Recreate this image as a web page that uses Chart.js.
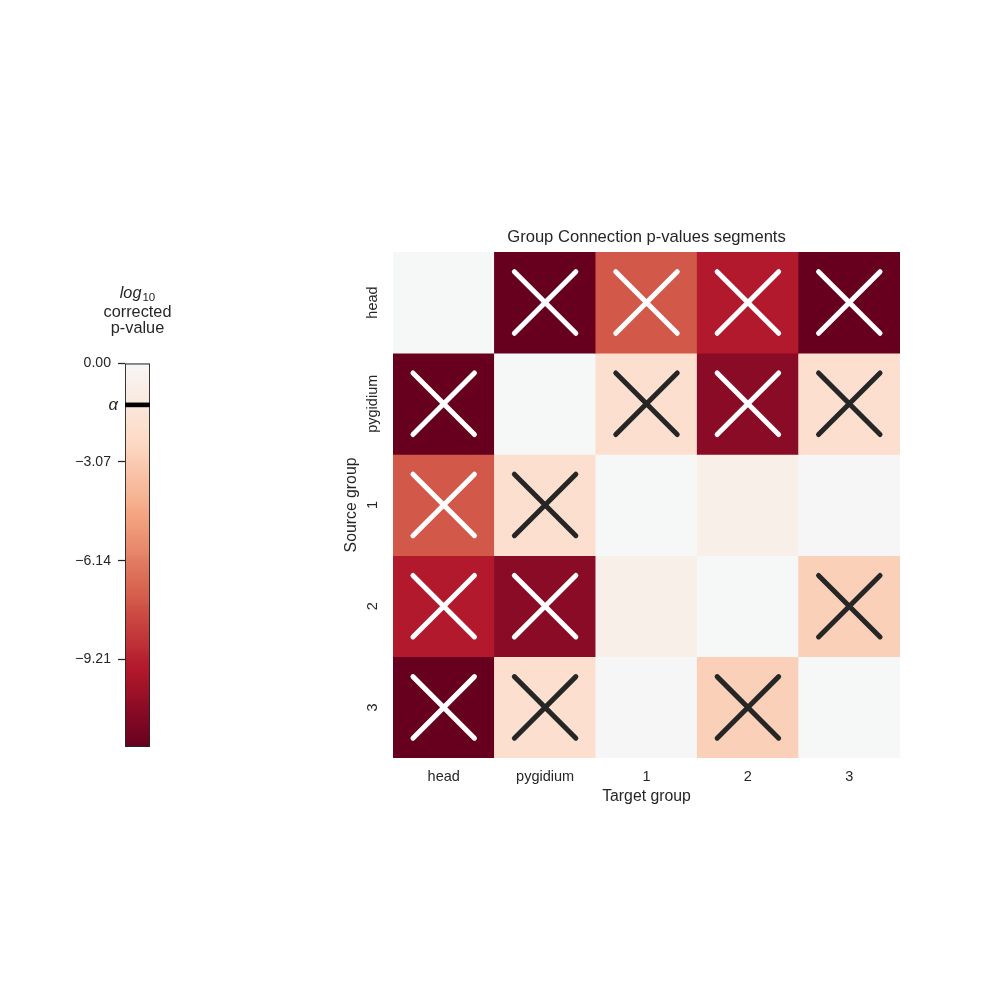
<!DOCTYPE html>
<html><head><meta charset="utf-8">
<script src="https://cdn.jsdelivr.net/npm/chart.js@4.4.1/dist/chart.umd.min.js"></script>
<style>
html,body{margin:0;padding:0;background:#fff;}
#wrap{position:relative;width:1000px;height:1000px;overflow:hidden;}
#main{position:absolute;left:0;top:0;width:1000px;height:1000px;}
#cbar{position:absolute;left:0;top:260px;width:220px;height:520px;}
</style></head><body>
<div id="wrap">
<canvas id="main" width="1000" height="1000"></canvas>
<canvas id="cbar" width="220" height="520"></canvas>
</div>
<script>
// ---- data ----
const chartTitle = 'Group Connection p-values segments';
const sourceGroups = ['head', 'pygidium', '1', '2', '3'];
const targetGroups = ['head', 'pygidium', '1', '2', '3'];
// log10 corrected p-values, one array per source group (columns = target groups)
const logP_head     = [0.00, -12.50, -7.40, -9.50, -12.50];
const logP_pygidium = [-12.50, 0.00, -1.96, -10.80, -1.96];
const logP_1        = [-7.40, -1.96, 0.00, -0.69, -0.05];
const logP_2        = [-9.50, -10.80, -0.69, 0.00, -2.86];
const logP_3        = [-12.50, -1.96, -0.05, -2.86, 0.00];
const alphaLevel = Math.log10(0.05);
const colorbarTicks = [0, -3.07, -6.14, -9.21];
const colorLimit = 11.93;

const rows = [logP_head, logP_pygidium, logP_1, logP_2, logP_3];

// ---- colour map (RdBu, 256-entry lookup like matplotlib) ----
const RDBU = ['#67001f','#b2182b','#d6604d','#f4a582','#fddbc7','#f7f7f7','#d1e5f0','#92c5de','#4393c3','#2166ac','#053061'];
function hexRgb(h){return [parseInt(h.slice(1,3),16),parseInt(h.slice(3,5),16),parseInt(h.slice(5,7),16)];}
const RDBU_RGB = RDBU.map(hexRgb);
function cmapRgb(v){
  let t = (v + colorLimit) / (2 * colorLimit);
  t = Math.min(Math.max(t, 0), 1);
  const idx = Math.min(255, Math.floor(t * 256));
  const p = idx / 255 * 10;
  const i = Math.min(9, Math.floor(p));
  const f = p - i;
  const a = RDBU_RGB[i], b = RDBU_RGB[i + 1];
  return [0,1,2].map(k => Math.round(a[k] + (b[k] - a[k]) * f));
}
function cmap(v){ const c = cmapRgb(v); return `rgb(${c[0]},${c[1]},${c[2]})`; }
function luminance(c){
  const lin = c.map(x => { x /= 255; return x <= 0.03928 ? x / 12.92 : Math.pow((x + 0.055) / 1.055, 2.4); });
  return 0.2126 * lin[0] + 0.7152 * lin[1] + 0.0722 * lin[2];
}

const FONT = "'Liberation Sans', Arial, sans-serif";
const INK = '#262626';
Chart.defaults.font.family = FONT;
Chart.defaults.color = INK;

// ---- heatmap ----
const cellDatasets = rows.map((vals, i) => ({
  type: 'bar',
  label: sourceGroups[i],
  data: vals.map(() => [i, i + 1]),
  backgroundColor: vals.map(cmap),
  borderWidth: 0,
  barPercentage: 1,
  categoryPercentage: 1,
  grouped: false,
  order: 1
}));

const crossPoints = [];
const crossColors = [];
rows.forEach((vals, i) => vals.forEach((v, j) => {
  if (v < alphaLevel) {
    crossPoints.push({x: targetGroups[j], y: i + 0.5});
    crossColors.push(luminance(cmapRgb(v)) > 0.408 ? INK : '#ffffff');
  }
}));

const roundCaps = {
  id: 'roundCaps',
  beforeDatasetDraw(chart, args){ if (args.meta.type === 'line') chart.ctx.lineCap = 'round'; },
  afterDatasetDraw(chart, args){ if (args.meta.type === 'line') chart.ctx.lineCap = 'butt'; }
};

const yLabels = {
  id: 'yLabels',
  afterDraw(chart){
    const ctx = chart.ctx, ys = chart.scales.y;
    ctx.save();
    ctx.fillStyle = INK;
    ctx.font = `14.5px ${FONT}`;
    ctx.textAlign = 'center';
    ctx.textBaseline = 'alphabetic';
    sourceGroups.forEach((g, i) => {
      const y = ys.getPixelForValue(i + 0.5);
      ctx.save();
      ctx.translate(ys.right - 16, y);
      ctx.rotate(-Math.PI / 2);
      ctx.fillText(g, 0, 0);
      ctx.restore();
    });
    ctx.restore();
  }
};

new Chart(document.getElementById('main'), {
  type: 'bar',
  data: {
    labels: targetGroups,
    datasets: [{
      type: 'line',
      label: 'significant',
      data: crossPoints,
      showLine: false,
      pointStyle: 'crossRot',
      pointRadius: 43.5,
      pointHoverRadius: 43.5,
      pointBorderWidth: 5,
      pointHoverBorderWidth: 5,
      pointBorderColor: crossColors,
      pointBackgroundColor: crossColors,
      order: 0,
      clip: false
    }, ...cellDatasets]
  },
  options: {
    responsive: false,
    devicePixelRatio: 1,
    animation: false,
    events: [],
    layout: {padding: {top: 227, left: 330, right: 100, bottom: 182}},
    plugins: {
      legend: {display: false},
      tooltip: {enabled: false},
      title: {display: true, text: chartTitle, color: INK, fullSize: false,
        font: {size: 16.6, weight: 'normal'}, padding: {top: 0, bottom: 5}}
    },
    scales: {
      x: {
        type: 'category', offset: true,
        grid: {display: false, drawTicks: false}, border: {display: false},
        ticks: {font: {size: 14.5}, color: INK, padding: 10, maxRotation: 0, autoSkip: false},
        title: {display: true, text: 'Target group', color: INK, font: {size: 15.8}, padding: {top: 0, bottom: 11.5}},
        afterFit(s){ s.height = 60; }
      },
      y: {
        type: 'linear', min: 0, max: 5, reverse: true,
        grid: {display: false}, border: {display: false},
        ticks: {display: false},
        title: {display: true, text: 'Source group', color: INK, font: {size: 15.8}, padding: {top: 12, bottom: 0}},
        afterFit(s){ s.width = 63; }
      }
    }
  },
  plugins: [roundCaps, yLabels]
});

// ---- colour bar ----
function fmtTick(v){ return v === 0 ? '0.00' : '\u2212' + Math.abs(v).toFixed(2); }

function barGradient(context){
  const chart = context.chart;
  if (!chart.chartArea) return '#ffffff';
  const ys = chart.scales.y;
  const y0 = ys.getPixelForValue(0), y1 = ys.getPixelForValue(-colorLimit);
  const g = chart.ctx.createLinearGradient(0, y0, 0, y1);
  const n = 120;
  for (let k = 0; k <= n; k++) {
    g.addColorStop(k / n, cmap(-colorLimit * k / n));
  }
  return g;
}

const cbarText = {
  id: 'cbarText',
  afterDraw(chart){
    const ctx = chart.ctx, ys = chart.scales.y, area = chart.chartArea;
    const cx = (area.left + area.right) / 2;
    ctx.save();
    ctx.fillStyle = INK;
    // alpha label
    ctx.font = `italic 16.6px ${FONT}`;
    ctx.textAlign = 'right';
    ctx.textBaseline = 'middle';
    ctx.fillText('\u03b1', area.left - 7, ys.getPixelForValue(alphaLevel));
    // title: log10 / corrected / p-value
    ctx.textBaseline = 'alphabetic';
    const fMain = `italic 16.3px ${FONT}`, fSub = `11.5px ${FONT}`;
    ctx.font = fMain; const wl = ctx.measureText('log').width;
    ctx.font = fSub; const ws = ctx.measureText('10').width;
    const x0 = cx - (wl + ws + 1) / 2;
    ctx.textAlign = 'left';
    ctx.font = fMain; ctx.fillText('log', x0, 37.5);
    ctx.font = fSub; ctx.fillText('10', x0 + wl + 1, 40.5);
    ctx.textAlign = 'center';
    ctx.font = `16.3px ${FONT}`;
    ctx.fillText('corrected', cx, 56.7);
    ctx.fillText('p-value', cx, 73);
    ctx.restore();
  }
};

new Chart(document.getElementById('cbar'), {
  type: 'bar',
  data: {
    labels: ['cb'],
    datasets: [
      {data: [[alphaLevel - 0.062, alphaLevel + 0.062]], backgroundColor: '#000000', borderWidth: 0,
       barPercentage: 1, categoryPercentage: 1, grouped: false, order: 0},
      {data: [[-colorLimit, 0]], backgroundColor: barGradient, borderColor: INK, borderWidth: 1.25,
       borderSkipped: false, barPercentage: 1, categoryPercentage: 1, grouped: false, order: 1}
    ]
  },
  options: {
    responsive: false,
    devicePixelRatio: 1,
    animation: false,
    events: [],
    layout: {padding: {top: 103, bottom: 33, left: 0, right: 70}},
    plugins: {legend: {display: false}, tooltip: {enabled: false}, title: {display: false}},
    scales: {
      x: {display: false},
      y: {
        min: -colorLimit, max: 0,
        afterBuildTicks(s){ s.ticks = colorbarTicks.map(v => ({value: v})); },
        afterFit(s){ s.width = 125; },
        ticks: {callback: v => fmtTick(v), font: {size: 14.1}, color: INK, padding: 7, autoSkip: false},
        grid: {drawOnChartArea: false, drawTicks: true, tickLength: 7, tickWidth: 1.25, tickColor: INK},
        border: {display: false}
      }
    }
  },
  plugins: [cbarText]
});
</script>
</body></html>
